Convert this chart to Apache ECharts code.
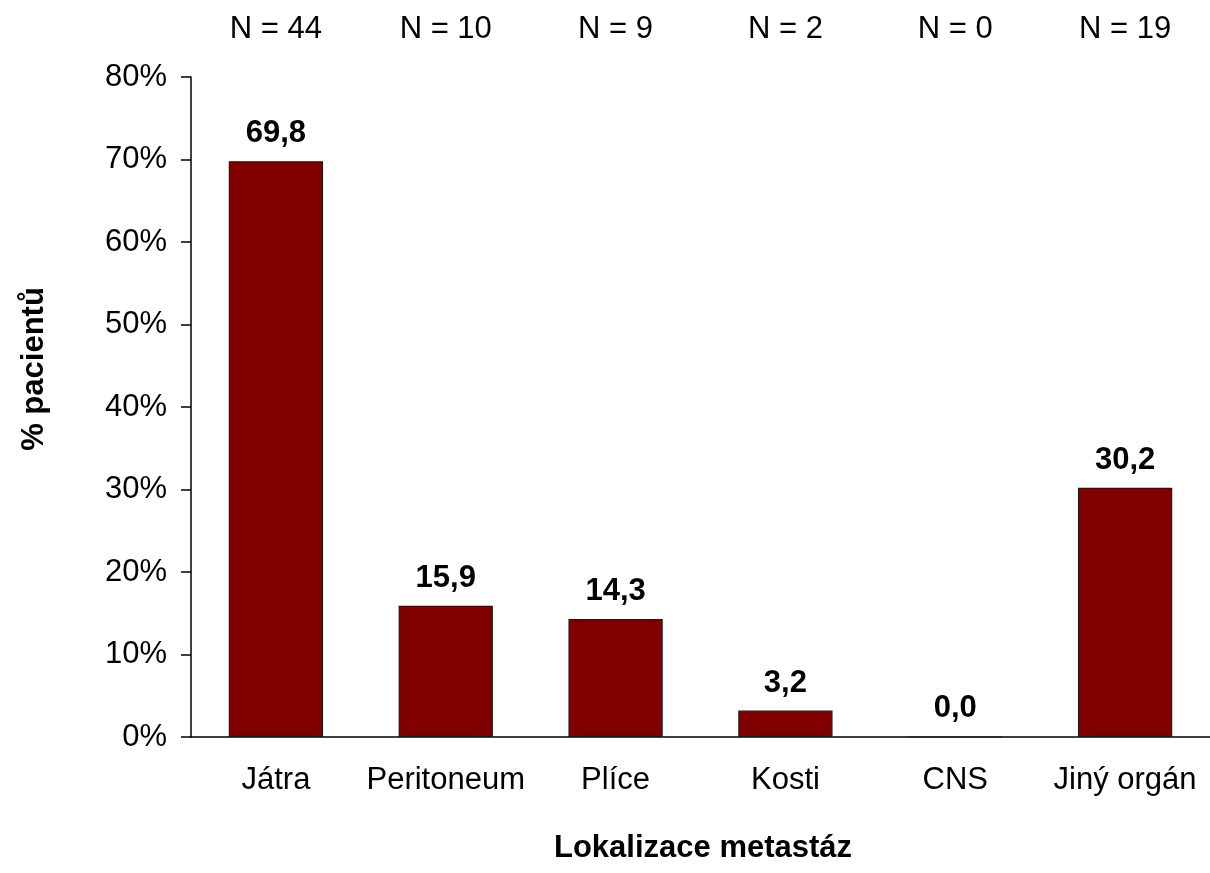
<!DOCTYPE html>
<html>
<head>
<meta charset="utf-8">
<script src="https://cdn.jsdelivr.net/npm/echarts@6/dist/echarts.min.js"></script>
<style>
  html, body { margin: 0; padding: 0; background: #fff; }
  #chart { width: 1210px; height: 873px; }
</style>
</head>
<body>
<div id="chart"></div>
<script>
// Metastasis sites with share of patients (%) and patient counts
const categories = ['Játra', 'Peritoneum', 'Plíce', 'Kosti', 'CNS', 'Jiný orgán'];
const percentValues = [69.8, 15.9, 14.3, 3.2, 0.0, 30.2];
const patientCounts = [44, 10, 9, 2, 0, 19];
const yTicks = [0, 10, 20, 30, 40, 50, 60, 70, 80];

const FONT = '"Liberation Sans", Arial, sans-serif';
const countLabels = patientCounts.map(n => 'N = ' + n);

const chart = echarts.init(document.getElementById('chart'), null, { renderer: 'canvas' });

chart.setOption({
  animation: false,
  backgroundColor: '#ffffff',
  textStyle: { fontFamily: FONT },
  grid: { left: 191, top: 77, width: 1026, height: 660, containLabel: false },
  xAxis: [
    {
      type: 'category',
      data: categories,
      position: 'bottom',
      axisLine: { show: true, lineStyle: { color: '#000', width: 1.5 } },
      axisTick: { show: false },
      axisLabel: { color: '#000', fontSize: 31, fontFamily: FONT, margin: 28, interval: 0 },
      splitLine: { show: false }
    },
    {
      type: 'category',
      data: countLabels,
      position: 'top',
      axisLine: { show: false },
      axisTick: { show: false },
      axisLabel: { color: '#000', fontSize: 31, fontFamily: FONT, margin: 32, interval: 0 },
      splitLine: { show: false }
    }
  ],
  yAxis: {
    type: 'value',
    min: yTicks[0],
    max: yTicks[yTicks.length - 1],
    interval: yTicks[1] - yTicks[0],
    axisLine: { show: true, lineStyle: { color: '#000', width: 1.5 } },
    axisTick: { show: true, inside: false, length: 10, lineStyle: { color: '#000', width: 1.5 } },
    axisLabel: { color: '#000', fontSize: 31, fontFamily: FONT, margin: 24, formatter: '{value}%' },
    splitLine: { show: false }
  },
  graphic: [
    {
      type: 'text',
      left: 554,
      top: 833,
      style: {
        text: 'Lokalizace metastáz',
        font: 'bold 31px ' + FONT,
        fill: '#000'
      }
    },
    {
      type: 'text',
      x: 34,
      y: 369,
      rotation: Math.PI / 2,
      style: {
        text: '% pacientů',
        font: 'bold 31px ' + FONT,
        fill: '#000',
        align: 'center',
        verticalAlign: 'middle'
      }
    }
  ],
  series: [
    {
      type: 'bar',
      xAxisIndex: 0,
      data: percentValues,
      barWidth: '55.5%',
      itemStyle: { color: '#800000', borderColor: '#1a1a1a', borderWidth: 1.2 },
      label: {
        show: true,
        position: 'top',
        distance: 12,
        color: '#000',
        fontSize: 31,
        fontWeight: 'bold',
        fontFamily: FONT,
        formatter: p => p.value.toFixed(1).replace('.', ',')
      }
    }
  ]
});
</script>
</body>
</html>
